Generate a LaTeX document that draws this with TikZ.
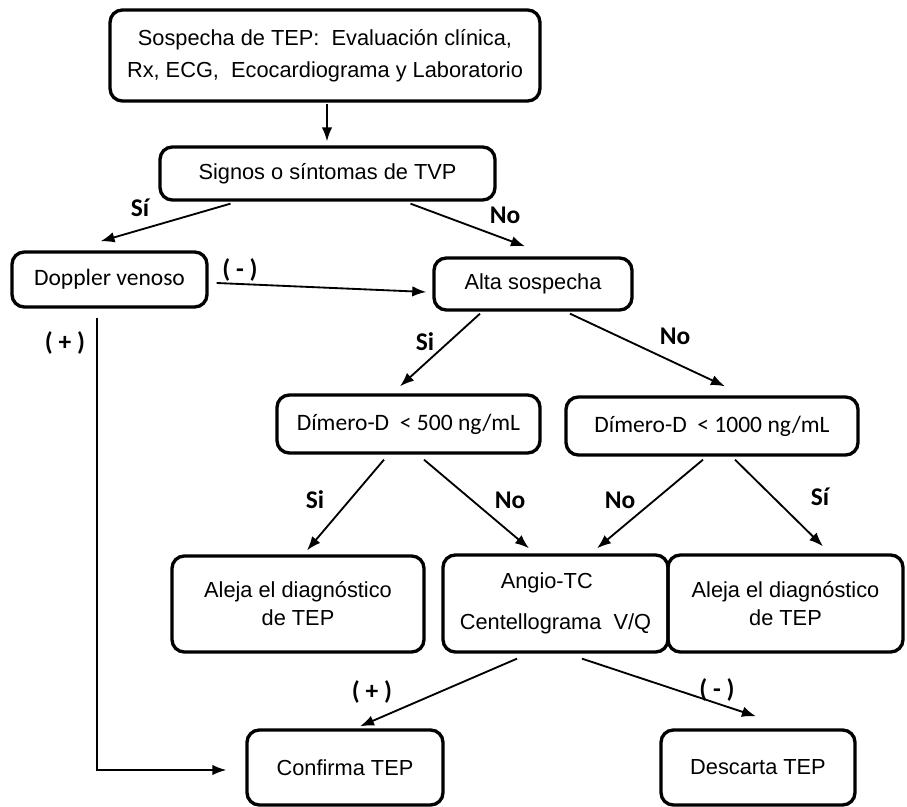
\documentclass[tikz,border=0pt]{standalone}
\usepackage{fontspec}
\setmainfont{Liberation Sans}
\newfontfamily\calfont{Carlito}
\usetikzlibrary{calc,arrows.meta}

\begin{document}
\begin{tikzpicture}[x=0.02cm,y=-0.02cm,
  box/.style={draw,line width=1.9pt,rounded corners=7pt,align=center,
    inner sep=0pt,font=\fontsize{12.4}{18}\selectfont},
  cbox/.style={box,font=\calfont\fontsize{13.4}{16}\selectfont},
  arr/.style={-{Latex[length=8pt,width=6pt]},line width=1.05pt},
  lbl/.style={font=\calfont\bfseries\fontsize{14.5}{16}\selectfont}]
\useasboundingbox (0,0) rectangle (907,807);
% Boxes
\node[box,minimum width=8.6cm,minimum height=1.82cm] (sosp) at (325,55.5)
  {Sospecha de TEP:~ Evaluación clínica,\\Rx, ECG,~ Ecocardiograma y Laboratorio};
\node[box,minimum width=6.7cm,minimum height=1.06cm] (tvp) at (327.5,173.5){Signos o síntomas de TVP};
\node[cbox,minimum width=3.9cm,minimum height=1.1cm] (dop) at (109.5,279.5){Doppler venoso};
\node[box,minimum width=3.96cm,minimum height=1.04cm] (alta) at (533,284){Alta sospecha};
\node[cbox,minimum width=5.26cm,minimum height=1.16cm] (dima) at (408.5,424){Dímero-D~ < 500 ng/mL};
\node[cbox,minimum width=5.84cm,minimum height=1.16cm] (dimb) at (712,426){Dímero-D~ < 1000 ng/mL};
\node[box,minimum width=5.04cm,minimum height=1.92cm,font=\fontsize{12.4}{16}\selectfont] (alea) at (298,604)
  {Aleja el diagnóstico\\de TEP};
\node[box,minimum width=4.5cm,minimum height=1.94cm,font=\fontsize{12.4}{23}\selectfont] (angio) at (555.5,603.5)
  {Angio-TC\hspace*{0.8em}\\Centellograma~ V/Q};
\node[box,minimum width=4.7cm,minimum height=1.94cm,font=\fontsize{12.4}{16}\selectfont] (aleb) at (785.5,603.5)
  {Aleja el diagnóstico\\de TEP};
\node[box,minimum width=3.92cm,minimum height=1.5cm] (conf) at (345,767.5){Confirma TEP};
\node[box,minimum width=3.88cm,minimum height=1.5cm] (desc) at (758,767.5){Descarta TEP};
% Arrows
\draw[arr] ($(sosp.south)+(2,1)$) -- ($(tvp.north)+(-0.5,-4)$);
\draw[arr] ($(tvp.south)+(-97,2)$) -- ($(dop.north)+(-9,-9)$);
\draw[arr] ($(tvp.south)+(83,2)$) -- ($(alta.north)+(-8,-10)$);
\draw[arr] ($(dop.east)+(8,3.5)$) -- ($(alta.west)+(-6,8)$);
\draw[arr] ($(dop.south)+(-12.5,9)$) |- ($(conf.west)+(-19,2.5)$);
\draw[arr] ($(alta.south)+(-53,2)$) -- ($(dima.north)+(-8.5,-7)$);
\draw[arr] ($(alta.south)+(37,2)$) -- ($(dimb.north)+(13,-9)$);
\draw[arr] ($(dima.south)+(-24.5,5)$) -- ($(alea.north)+(9,-4)$);
\draw[arr] ($(dima.south)+(15.5,5)$) -- ($(angio.north)+(-26.5,-5)$);
\draw[arr] ($(dimb.south)+(-9,3)$) -- ($(angio.north)+(41.5,-5)$);
\draw[arr] ($(dimb.south)+(23,3)$) -- ($(aleb.north)+(37.5,-7)$);
\draw[arr] ($(angio.south)+(-38.5,5)$) -- ($(conf.north)+(15,-2)$);
\draw[arr] ($(angio.south)+(26.5,5)$) -- ($(desc.north)+(-2,-12)$);
% Labels
\node[lbl] (l1) at (140,208){Sí};
\node[lbl] (l2) at (505,215){No};
\node[lbl] (l3) at (240,270){( - )};
\node[lbl] (l4) at (65,343){( + )};
\node[lbl] (l5) at (425,342){Si};
\node[lbl] (l6) at (675,336){No};
\node[lbl] (l7) at (315,500){Si};
\node[lbl] (l8) at (510,500){No};
\node[lbl] (l9) at (620,500){No};
\node[lbl] (l10) at (820,497){Sí};
\node[lbl] (l11) at (372,692){( + )};
\node[lbl] (l12) at (717,690){( - )};
\end{tikzpicture}
\end{document}
